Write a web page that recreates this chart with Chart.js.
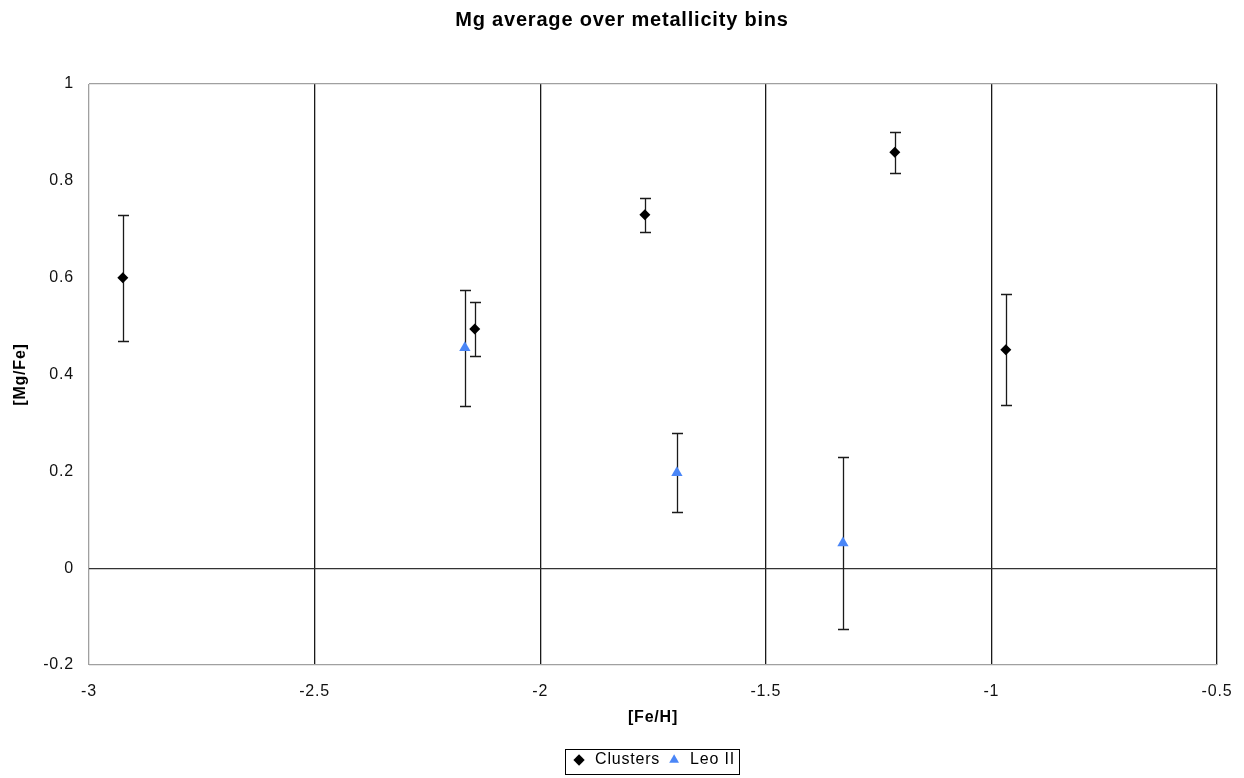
<!DOCTYPE html>
<html>
<head>
<meta charset="utf-8">
<script src="https://cdn.jsdelivr.net/npm/chart.js@4.4.1/dist/chart.umd.min.js"></script>
<style>
  body { margin: 0; background: #fff; }
  canvas { display: block; }
</style>
</head>
<body>
<canvas id="graph" width="1244" height="778"></canvas>
<script>
// [Fe/H] bins vs [Mg/Fe] averages
const clusterFeH = [-2.925, -2.145, -1.768, -1.214, -0.968]
const clusterMgFe = [0.600, 0.494, 0.730, 0.859, 0.451]
const clusterErr = [0.130, 0.056, 0.035, 0.042, 0.115]

const leoFeH = [-2.167, -1.697, -1.329]
const leoMgFe = [0.455, 0.197, 0.052]
const leoErr = [0.120, 0.082, 0.178]

const xTicks = [-3, -2.5, -2, -1.5, -1, -0.5]
const yTicks = [-0.2, 0, 0.2, 0.4, 0.6, 0.8, 1]

const errs = [clusterErr, leoErr]
const font = 'Liberation Sans, Arial, sans-serif'
const fmt = v => String(Math.round(v * 10) / 10)

// slightly wider text like the original
const spacing = {
    id: 'spacing',
    beforeUpdate(chart) { chart.ctx.letterSpacing = '0.8px' },
    beforeDraw(chart) { chart.ctx.letterSpacing = '0.8px' }
}

const errorBars = {
    id: 'errorBars',
    beforeDatasetsDraw(chart) {
        const c = chart.ctx
        const xs = chart.scales.x, ys = chart.scales.y
        c.save()
        c.strokeStyle = '#1a1a1a'
        c.lineWidth = 1.3
        chart.data.datasets.forEach((ds, i) => {
            ds.data.forEach((p, j) => {
                const e = errs[i][j]
                const px = Math.round(xs.getPixelForValue(p.x)) + 0.5
                const top = Math.round(ys.getPixelForValue(p.y + e)) + 0.5
                const bot = Math.round(ys.getPixelForValue(p.y - e)) + 0.5
                c.beginPath()
                c.moveTo(px, top); c.lineTo(px, bot)
                c.moveTo(px - 5.5, top); c.lineTo(px + 5.5, top)
                c.moveTo(px - 5.5, bot); c.lineTo(px + 5.5, bot)
                c.stroke()
            })
        })
        c.restore()
    }
}

const legendBox = {
    id: 'legendBox',
    afterDraw(chart) {
        const boxes = chart.legend.legendHitBoxes
        if (!boxes || !boxes.length) return
        let l = Infinity, r = -Infinity, t = Infinity, b = -Infinity
        boxes.forEach(h => {
            l = Math.min(l, h.left); r = Math.max(r, h.left + h.width)
            t = Math.min(t, h.top); b = Math.max(b, h.top + h.height)
        })
        const c = chart.ctx
        c.save()
        c.strokeStyle = '#000'
        c.lineWidth = 1
        c.strokeRect(Math.round(l - 6) + 0.5, Math.round(t - 3) + 0.5, Math.round(r - l + 10), Math.round(b - t + 9))
        c.restore()
    }
}

const toPts = (xs, ys) => xs.map((x, i) => ({ x: x, y: ys[i] }))

let ctx = document.getElementById('graph').getContext('2d')
new Chart(ctx, {
    type: 'scatter',
    data: {
        datasets: [{
            label: 'Clusters',
            data: toPts(clusterFeH, clusterMgFe),
            pointStyle: 'rectRot',
            pointRadius: 5.5,
            backgroundColor: '#000',
            borderColor: '#000',
            borderWidth: 0
        }, {
            label: 'Leo II',
            data: toPts(leoFeH, leoMgFe),
            pointStyle: 'triangle',
            pointRadius: 6.5,
            backgroundColor: '#4a86f7',
            borderColor: '#4a86f7',
            borderWidth: 0
        }]
    },
    options: {
        responsive: false,
        animation: false,
        layout: { padding: 0 },
        plugins: {
            title: {
                display: true,
                text: 'Mg average over metallicity bins',
                color: '#000',
                font: { family: font, size: 20, weight: 'bold' },
                padding: { top: 8, bottom: 52 }
            },
            legend: {
                position: 'bottom',
                fullSize: false,
                labels: {
                    usePointStyle: true,
                    boxHeight: 8,
                    color: '#000',
                    padding: 6,
                    font: { family: font, size: 16 }
                }
            },
            tooltip: { enabled: false }
        },
        scales: {
            x: {
                type: 'linear',
                min: -3,
                max: -0.5,
                afterBuildTicks: s => { s.ticks = xTicks.map(v => ({ value: v })) },
                afterFit: s => { s.height = 81; s.paddingLeft = 0; s.paddingRight = 27 },
                grid: {
                    drawTicks: false,
                    lineWidth: 1.3,
                    color: c => c.tick && c.tick.value === -3 ? '#a0a0a0' : '#1a1a1a'
                },
                border: { display: false },
                ticks: {
                    color: '#111',
                    padding: 17,
                    font: { family: font, size: 16 },
                    callback: fmt
                },
                title: {
                    display: true,
                    text: '[Fe/H]',
                    color: '#000',
                    font: { family: font, size: 16, weight: 'bold' },
                    padding: { top: 10, bottom: 19 }
                }
            },
            y: {
                type: 'linear',
                min: -0.2,
                max: 1,
                afterBuildTicks: s => { s.ticks = yTicks.map(v => ({ value: v })) },
                afterFit: s => { s.width = 89 },
                grid: {
                    drawTicks: false,
                    lineWidth: 1.3,
                    color: c => {
                        if (!c.tick) return 'rgba(0,0,0,0)'
                        const v = Math.round(c.tick.value * 10) / 10
                        if (v === 0) return '#333'
                        if (v === 1 || v === -0.2) return '#a0a0a0'
                        return 'rgba(0,0,0,0)'
                    }
                },
                border: { display: false },
                ticks: {
                    color: '#111',
                    padding: 15,
                    font: { family: font, size: 16 },
                    callback: fmt
                },
                title: {
                    display: true,
                    text: '[Mg/Fe]',
                    color: '#000',
                    font: { family: font, size: 16, weight: 'bold' },
                    padding: { top: 11, bottom: 0 }
                }
            }
        }
    },
    plugins: [spacing, errorBars, legendBox]
});
</script>
</body>
</html>
